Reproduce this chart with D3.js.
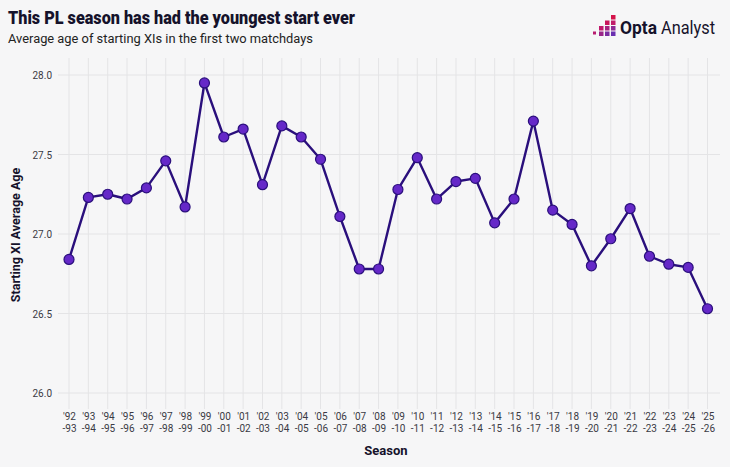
<!DOCTYPE html>
<html>
<head>
<meta charset="utf-8">
<script src="https://cdn.jsdelivr.net/npm/d3@7"></script>
<style>
html,body{margin:0;padding:0;background:#f6f6f7;}
svg{display:block;}
</style>
</head>
<body>
<svg id="chart" width="730" height="467"></svg>
<script>
const seasonsStart = ["'92","'93","'94","'95","'96","'97","'98","'99","'00","'01","'02","'03","'04","'05","'06","'07","'08","'09","'10","'11","'12","'13","'14","'15","'16","'17","'18","'19","'20","'21","'22","'23","'24","'25"];
const seasonsEnd = ["-93","-94","-95","-96","-97","-98","-99","-00","-01","-02","-03","-04","-05","-06","-07","-08","-09","-10","-11","-12","-13","-14","-15","-16","-17","-18","-19","-20","-21","-22","-23","-24","-25","-26"];
const avgAge = [26.84,27.23,27.25,27.22,27.29,27.46,27.17,27.95,27.61,27.66,27.31,27.68,27.61,27.47,27.11,26.78,26.78,27.28,27.48,27.22,27.33,27.35,27.07,27.22,27.71,27.15,27.06,26.80,26.97,27.16,26.86,26.81,26.79,26.53];
const yTicks = [26.0,26.5,27.0,27.5,28.0];

const svg = d3.select("#chart");
const font = "Roboto, 'DejaVu Sans', sans-serif";
const ink = "#15122b";

svg.append("rect").attr("width",730).attr("height",467).attr("fill","#f6f6f7");

const x = d3.scalePoint().domain(d3.range(seasonsStart.length)).range([69, 707.5]);
const y = d3.scaleLinear().domain([26, 28]).range([393, 75]);

// gridlines
const g = svg.append("g");
g.selectAll("line.v").data(d3.range(seasonsStart.length)).join("line")
  .attr("x1", d=>x(d)).attr("x2", d=>x(d)).attr("y1", 58).attr("y2", 409)
  .attr("stroke","#e4e4e6").attr("stroke-width",1);
g.selectAll("line.h").data(yTicks).join("line")
  .attr("x1", 58).attr("x2", 720).attr("y1", d=>y(d)).attr("y2", d=>y(d))
  .attr("stroke","#e4e4e6").attr("stroke-width",1);

// y axis labels
const yAxis = d3.axisLeft(y).tickValues(yTicks).tickFormat(d3.format(".1f")).tickSize(0).tickPadding(0);
const ya = svg.append("g").attr("transform","translate(52,0)").call(yAxis);
ya.select(".domain").remove();
ya.selectAll("text").attr("font-family",font).attr("font-size",10).attr("fill","#3a3a44").attr("dy","0.35em");

// x axis labels
const xAxis = d3.axisBottom(x).tickSize(0).tickFormat(()=>"");
const xa = svg.append("g").attr("transform","translate(0,409)").call(xAxis);
xa.select(".domain").remove();
xa.selectAll(".tick text").each(function(d){
  const t = d3.select(this).text(null).attr("font-family",font).attr("font-size",10).attr("fill","#3a3a44").attr("y",0).attr("dy",null);
  t.append("tspan").attr("x",0).attr("y",11).text(seasonsStart[d]);
  t.append("tspan").attr("x",0).attr("y",23).text(seasonsEnd[d]);
});

// line
const line = d3.line().x((d,i)=>x(i)).y(d=>y(d));
svg.append("path").datum(avgAge).attr("d",line).attr("fill","none")
  .attr("stroke","#2a0f7c").attr("stroke-width",2.4).attr("stroke-linejoin","round");

svg.selectAll("circle.pt").data(avgAge).join("circle")
  .attr("cx",(d,i)=>x(i)).attr("cy",d=>y(d)).attr("r",5)
  .attr("fill","#6528c8").attr("stroke","#2a0f7c").attr("stroke-width",1.2);

// titles
svg.append("text").attr("x",8).attr("y",24).attr("font-family",font).attr("font-weight",900)
  .attr("font-size",18).attr("fill",ink).attr("textLength",347).attr("lengthAdjust","spacingAndGlyphs")
  .text("This PL season has had the youngest start ever");
svg.append("text").attr("x",8).attr("y",43).attr("font-family",font)
  .attr("font-size",12).attr("fill","#222").attr("textLength",305).attr("lengthAdjust","spacingAndGlyphs")
  .text("Average age of starting XIs in the first two matchdays");

// axis titles
svg.append("text").attr("transform","translate(20,235) rotate(-90)").attr("text-anchor","middle")
  .attr("font-family",font).attr("font-weight",700).attr("font-size",12.5).attr("fill",ink).text("Starting XI Average Age");
svg.append("text").attr("x",386).attr("y",455).attr("text-anchor","middle")
  .attr("font-family",font).attr("font-weight",700).attr("font-size",13).attr("fill",ink).text("Season");

// logo
const logo = svg.append("g").attr("transform","translate(593,15)");
const cells = [
  [3,0,"#d4134a"],
  [2,1,"#c8155a"],[3,1,"#c01c6a"],
  [1,2,"#c0176a"],[2,2,"#a8217e"],[3,2,"#8e2a95"],
  [0,3,"#b81c70"],[1,3,"#9a2488"],[2,3,"#7a2ca0"],[3,3,"#6a30b0"]
];
logo.selectAll("rect").data(cells).join("rect")
  .attr("x",d=>d[0]*6).attr("y",d=>d[1]*5.5).attr("width",d=>d[0]===0?3:4.5).attr("height",d=>d[0]===0?3:4.5)
  .attr("fill",d=>d[2]);
svg.append("text").attr("x",620).attr("y",34).attr("font-family",font).attr("font-size",19).attr("font-weight",700).attr("fill",ink)
  .attr("textLength",37).attr("lengthAdjust","spacingAndGlyphs").text("Opta");
svg.append("text").attr("x",661).attr("y",34).attr("font-family",font).attr("font-size",19).attr("font-weight",400).attr("fill",ink)
  .attr("textLength",54).attr("lengthAdjust","spacingAndGlyphs").text("Analyst");
</script>
</body>
</html>
